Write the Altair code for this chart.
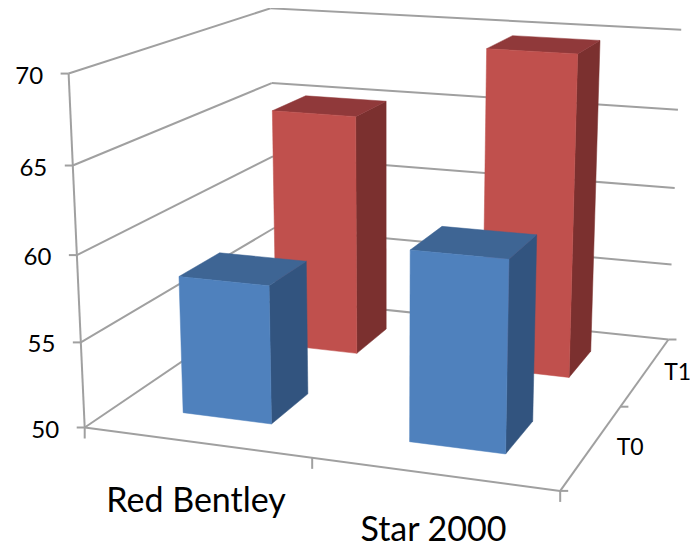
import altair as alt
import numpy as np
import pandas as pd

categories = ["Red Bentley", "Star 2000"]
category_label_drop = [70, 67]
series = ["T0", "T1"]
series_label_offset = [38, 32]
t0_values = [58.1, 60.9]
t1_values = [65.1, 69.7]
value_ticks = [50, 55, 60, 65, 70]
value_min, value_max = 50, 70

# Perspective camera: category / series / value axes (0..1) -> page pixels
CAMERA_POINTS = [
    ((0, 0, 0), (84.5, 428)), ((0, 0, .25), (81, 342)), ((0, 0, .5), (77, 255)),
    ((0, 0, .75), (73, 165.5)), ((0, 0, 1), (68.5, 73.5)), ((1, 0, 0), (560, 491)),
    ((1, 1, 0), (668, 339)), ((1, 1, .25), (672, 265)), ((1, 1, .5), (675, 188)),
    ((1, 1, .75), (678, 110)), ((1, 1, 1), (681, 29.5)), ((0, 1, 1), (270, 8.5)),
    ((0, 1, .75), (272, 83)),
]
rows = []
for (X, Y, Z), (u, v) in CAMERA_POINTS:
    rows.append([X, Y, Z, 1, 0, 0, 0, 0, -u * X, -u * Y, -u * Z, -u])
    rows.append([0, 0, 0, 0, X, Y, Z, 1, -v * X, -v * Y, -v * Z, -v])
P = np.linalg.svd(np.array(rows, dtype=float))[2][-1].reshape(3, 4)


def project(x, y, z):
    h = P @ np.array([x, y, z, 1.0])
    return float(h[0] / h[2]), float(h[1] / h[2])


def zfrac(value):
    return (value - value_min) / (value_max - value_min)


GRID = "#a0a0a0"
BLUE = ("#4f81bd", "#3e6594", "#32547f")
RED = ("#c0504d", "#90393a", "#7b302f")
BAR_W = 0.2

# ---- lines ----
line_rows = []


def add_line(name, a, b):
    for i, p in enumerate((a, b)):
        px, py = project(*p)
        line_rows.append({"id": name, "i": i, "px": px, "py": py})


def add_tick(name, a, dx, dy):
    px, py = project(*a)
    line_rows.append({"id": name, "i": 0, "px": px, "py": py})
    line_rows.append({"id": name, "i": 1, "px": px + dx, "py": py + dy})


for v in value_ticks:
    z = zfrac(v)
    add_line(f"wall-{v}", (0, 0, z), (0, 1, z))
    add_line(f"back-{v}", (0, 1, z), (1, 1, z))
    add_tick(f"vtick-{v}", (0, 0, z), -8, 0)
add_line("axis-v", (0, 0, 0), (0, 0, 1))
add_line("axis-x", (0, 0, 0), (1, 0, 0))
add_line("axis-d", (1, 0, 0), (1, 1, 0))
for f in (0, .5, 1):
    add_tick(f"xtick-{f}", (f, 0, 0), 0, 11)
    add_tick(f"dtick-{f}", (1, f, 0), 8, 0)
lines = alt.Chart(pd.DataFrame(line_rows))

# ---- bars ----
face_rows = []


def add_bar(key, xc, yc, value, cols):
    x0, x1 = xc - BAR_W / 2, xc + BAR_W / 2
    y0, y1 = yc - BAR_W / 2, yc + BAR_W / 2
    z = zfrac(value)
    faces = [
        ("side", cols[2], [(x1, y0, 0), (x1, y1, 0), (x1, y1, z), (x1, y0, z)]),
        ("top", cols[1], [(x0, y0, z), (x1, y0, z), (x1, y1, z), (x0, y1, z)]),
        ("front", cols[0], [(x0, y0, 0), (x1, y0, 0), (x1, y0, z), (x0, y0, z)]),
    ]
    for name, col, pts in faces:
        for i, p in enumerate(pts + pts[:1]):
            px, py = project(*p)
            face_rows.append({"face": f"{key}-{name}", "i": i, "px": px, "py": py, "col": col})


for k, val in enumerate(t1_values):
    add_bar(f"T1-{k}", 0.25 + 0.5 * k, 0.75, val, RED)
for k, val in enumerate(t0_values):
    add_bar(f"T0-{k}", 0.25 + 0.5 * k, 0.25, val, BLUE)

# ---- texts ----
text_rows = []
for v in value_ticks:
    px, py = project(0, 0, zfrac(v))
    text_rows.append({"t": str(v), "px": px - 25.5, "py": py + 10, "size": 24, "align": "right"})
for k, s in enumerate(series):
    px, py = project(1, 0.25 + 0.5 * k, 0)
    text_rows.append({"t": s, "px": px + series_label_offset[k], "py": py + 9, "size": 23, "align": "center"})
for k, c in enumerate(categories):
    px, py = project(0.25 + 0.5 * k, 0, 0)
    text_rows.append({"t": c, "px": px, "py": py + category_label_drop[k], "size": 34, "align": "center"})
texts = pd.DataFrame(text_rows)

x = alt.X("px:Q", scale=alt.Scale(domain=[8, 690], nice=False, zero=False), axis=None)
y = alt.Y("py:Q", scale=alt.Scale(domain=[536, 8], nice=False, zero=False), axis=None)

line_layer = lines.mark_line(color=GRID, strokeWidth=2).encode(
    x=x, y=y, detail="id:N", order="i:Q"
)

layers = [line_layer]
for face in dict.fromkeys(r["face"] for r in face_rows):
    d = pd.DataFrame([r for r in face_rows if r["face"] == face])
    col = d["col"].iloc[0]
    layers.append(
        alt.Chart(d).mark_line(fill=col, stroke=col, strokeWidth=0.5).encode(x=x, y=y, order="i:Q")
    )
for (size, align), d in texts.groupby(["size", "align"]):
    layers.append(
        alt.Chart(d).mark_text(
            font="Lato", fontSize=size, align=align, baseline="alphabetic", color="#000000"
        ).encode(x=x, y=y, text="t:N")
    )

chart = alt.layer(*layers).properties(
    width=682,
    height=528,
    padding={"left": 0, "top": 0, "right": 0, "bottom": 13},
    autosize=alt.AutoSizeParams(type="none"),
).configure_view(stroke=None)

chart.save("out.html", embed_options={"renderer": "svg", "actions": False})
